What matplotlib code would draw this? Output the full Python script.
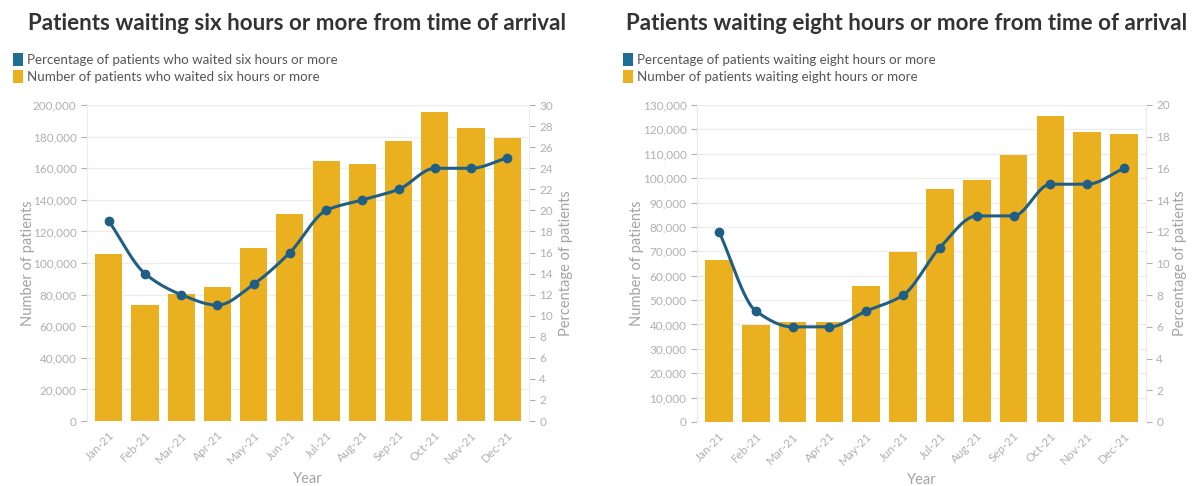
import numpy as np
import matplotlib
matplotlib.use("Agg")
import matplotlib.pyplot as plt
from matplotlib.patches import Patch

# ── Data ──────────────────────────────────────────────────────────────────────
months = ["Jan-21", "Feb-21", "Mar-21", "Apr-21", "May-21", "Jun-21",
          "Jul-21", "Aug-21", "Sep-21", "Oct-21", "Nov-21", "Dec-21"]

six_hr_count = [106000, 73500, 80200, 85000, 109700, 131000,
                164800, 162900, 177400, 195400, 185200, 178900]
six_hr_pct = [19, 14, 12, 11, 13, 16, 20, 21, 22, 24, 24, 25]

eight_hr_count = [66600, 39600, 41000, 41100, 55800, 69600,
                  95700, 99400, 109400, 125400, 119100, 118000]
eight_hr_pct = [12, 7, 6, 6, 7, 8, 11, 13, 13, 15, 15, 16]

BAR_COL = "#EBB01F"
LINE_COL = "#1F5F85"
TICK_COL = "#b0b0b0"
LABEL_COL = "#a3a3a3"
GRID_COL = "#ececec"

plt.rcParams["font.family"] = ["Lato", "DejaVu Sans"]


def pchip(x, y, n=300):
    """Monotone cubic curve through the points (for the smoothed line)."""
    x = np.asarray(x, float)
    y = np.asarray(y, float)
    h = np.diff(x)
    d = np.diff(y) / h
    m = np.zeros_like(y)
    for k in range(1, len(y) - 1):
        if d[k - 1] * d[k] > 0:
            w1 = 2 * h[k] + h[k - 1]
            w2 = h[k] + 2 * h[k - 1]
            m[k] = (w1 + w2) / (w1 / d[k - 1] + w2 / d[k])
    m[0] = d[0]
    m[-1] = d[-1]
    xs = np.linspace(x[0], x[-1], n)
    idx = np.clip(np.searchsorted(x, xs) - 1, 0, len(x) - 2)
    t = (xs - x[idx]) / h[idx]
    h00 = 2 * t**3 - 3 * t**2 + 1
    h10 = t**3 - 2 * t**2 + t
    h01 = -2 * t**3 + 3 * t**2
    h11 = t**3 - t**2
    ys = (h00 * y[idx] + h10 * h[idx] * m[idx] +
          h01 * y[idx + 1] + h11 * h[idx] * m[idx + 1])
    return xs, ys


def draw_panel(fig, rect, counts, pcts, ymax, ystep, pmax, pstep,
               left_lab_x, right_lab_x):
    ax = fig.add_axes(rect)
    x = np.arange(len(months))
    ax.bar(x, counts, width=0.75, color=BAR_COL, zorder=2)
    ax.set_xlim(-0.6, len(months) - 0.4)
    ax.set_ylim(0, ymax)
    ax.set_yticks(np.arange(0, ymax + 1, ystep))
    ax.set_yticklabels([f"{v:,}" for v in np.arange(0, ymax + 1, ystep)])
    ax.set_xticks(x)
    ax.set_xticklabels(months, rotation=45, ha="right", rotation_mode="anchor")
    ax.grid(axis="y", color=GRID_COL, linewidth=1, zorder=0)
    ax.set_xlabel("Year", color=LABEL_COL, fontsize=10.5, labelpad=4)
    ax.tick_params(colors=TICK_COL, labelsize=8.5, length=4)
    ax.tick_params(axis="x", length=0, pad=6)
    for s in ["top", "right"]:
        ax.spines[s].set_visible(False)
    ax.spines["bottom"].set_visible(False)
    ax.spines["left"].set_color(GRID_COL)

    ax2 = ax.twinx()
    xs, ys = pchip(x, pcts)
    ax2.plot(xs, ys, color=LINE_COL, linewidth=2.2, zorder=3)
    ax2.plot(x, pcts, "o", color=LINE_COL, markersize=6, zorder=4)
    ax2.set_ylim(0, pmax)
    ax2.set_yticks(np.arange(0, pmax + 1, pstep))
    ax2.tick_params(colors=TICK_COL, labelsize=8.5, length=4)
    for s in ["top", "left", "bottom"]:
        ax2.spines[s].set_visible(False)
    ax2.spines["right"].set_color(GRID_COL)

    ymid = rect[1] + rect[3] / 2
    fig.text(left_lab_x, ymid, "Number of patients", rotation=90,
             ha="center", va="center", color=LABEL_COL, fontsize=10.5)
    fig.text(right_lab_x, ymid, "Percentage of patients", rotation=90,
             ha="center", va="center", color=LABEL_COL, fontsize=10.5)
    return ax, ax2


fig = plt.figure(figsize=(11.99, 4.86), dpi=100)

draw_panel(fig, [0.0726, 0.1337, 0.3686, 0.650],
           six_hr_count, six_hr_pct, 200000, 20000, 30, 2,
           28 / 1199, 566 / 1199)
draw_panel(fig, [0.5813, 0.1317, 0.3745, 0.6523],
           eight_hr_count, eight_hr_pct, 130000, 10000, 20, 2,
           637 / 1199, 1180 / 1199)

# Titles
fig.text(0.0234, 0.952, "Patients waiting six hours or more from time of arrival",
         fontsize=16.1, fontweight="bold", color="#333333", va="center")
fig.text(0.522, 0.952, "Patients waiting eight hours or more from time of arrival",
         fontsize=16.1, fontweight="bold", color="#333333", va="center")

# Legends
for xpos, labels in [
    (0.006, ["Percentage of patients who waited six hours or more",
             "Number of patients who waited six hours or more"]),
    (0.515, ["Percentage of patients waiting eight hours or more",
             "Number of patients waiting eight hours or more"]),
]:
    handles = [Patch(facecolor="#1F6E94", edgecolor="none", label=labels[0]),
               Patch(facecolor=BAR_COL, edgecolor="none", label=labels[1])]
    fig.legend(handles=handles, loc="upper left", bbox_to_anchor=(xpos, 0.902),
               frameon=False, fontsize=9.6, handlelength=0.8, handleheight=1.1,
               handletextpad=0.3, labelspacing=0.3, borderaxespad=0,
               labelcolor="#555555")

fig.savefig("out.png", dpi=100)
